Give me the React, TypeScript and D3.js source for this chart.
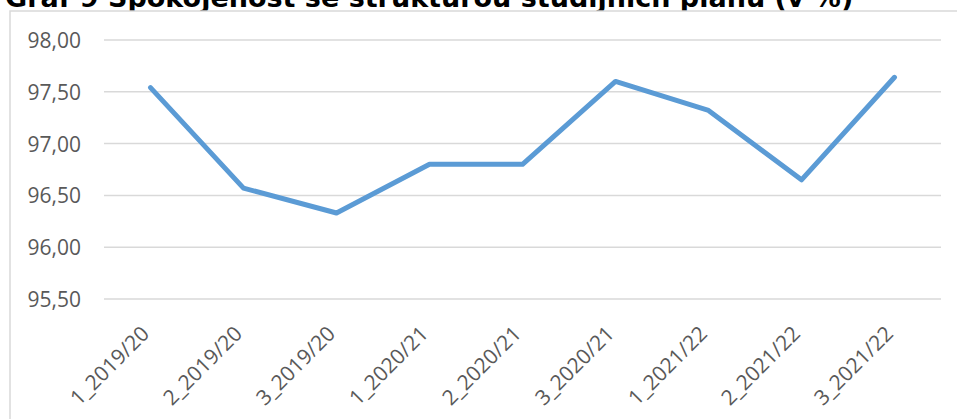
import React from "react";
import * as d3 from "d3";

// values
const categories = [
  "1_2019/20",
  "2_2019/20",
  "3_2019/20",
  "1_2020/21",
  "2_2020/21",
  "3_2020/21",
  "1_2021/22",
  "2_2021/22",
  "3_2021/22",
];
const values = [97.54, 96.57, 96.33, 96.8, 96.8, 97.6, 97.32, 96.65, 97.64];
const yTicks = [95.5, 96, 96.5, 97, 97.5, 98];
const title = "Graf 9 Spokojenost se strukturou studijních plánů (v %)";

const W = 957;
const H = 419;

const App = () => {
  const plot = { left: 104, right: 941, top: 40, bottom: 299 };

  const x = d3.scaleBand<string>().domain(categories).range([plot.left, plot.right]);
  const y = d3.scaleLinear().domain([95.5, 98]).range([plot.bottom, plot.top]);
  const cx = (c: string) => (x(c) ?? 0) + x.bandwidth() / 2;

  const line = d3
    .line<number>()
    .x((_, i) => cx(categories[i]))
    .y((d) => y(d));

  const fmt = (d: number) => d3.format(".2f")(d).replace(".", ",");

  return (
    <svg
      width={W}
      height={H}
      style={{ position: "fixed", left: 0, top: 0, background: "#fff" }}
    >
      {/* title, partly cut off at the top */}
      <text
        x={5}
        y={7}
        fontFamily="DejaVu Sans"
        fontWeight="bold"
        fontSize={27}
        fill="#000"
      >
        {title}
      </text>

      {/* chart area box covers the title descenders */}
      <rect x={10} y={11} width={1000} height={500} fill="#fff" stroke="#d9d9d9" strokeWidth={1.5} />

      {/* gridlines + y labels */}
      <g>
        {yTicks.map((t) => (
          <g key={t}>
            <line x1={plot.left} x2={plot.right} y1={y(t)} y2={y(t)} stroke="#d9d9d9" strokeWidth={1.5} />
            <text
              x={81}
              y={y(t)}
              textAnchor="end"
              dominantBaseline="central"
              fontFamily="Open Sans"
              fontSize={21}
              fill="#595959"
            >
              {fmt(t)}
            </text>
          </g>
        ))}
      </g>

      {/* x labels, rotated */}
      <g>
        {categories.map((c) => (
          <text
            key={c}
            transform={`translate(${cx(c)},${plot.bottom + 36}) rotate(-45)`}
            textAnchor="end"
            fontFamily="Open Sans"
            fontSize={21}
            fill="#595959"
          >
            {c}
          </text>
        ))}
      </g>

      <path
        d={line(values) ?? ""}
        fill="none"
        stroke="#5b9bd5"
        strokeWidth={5}
        strokeLinejoin="round"
        strokeLinecap="round"
      />
    </svg>
  );
};

export default App;
